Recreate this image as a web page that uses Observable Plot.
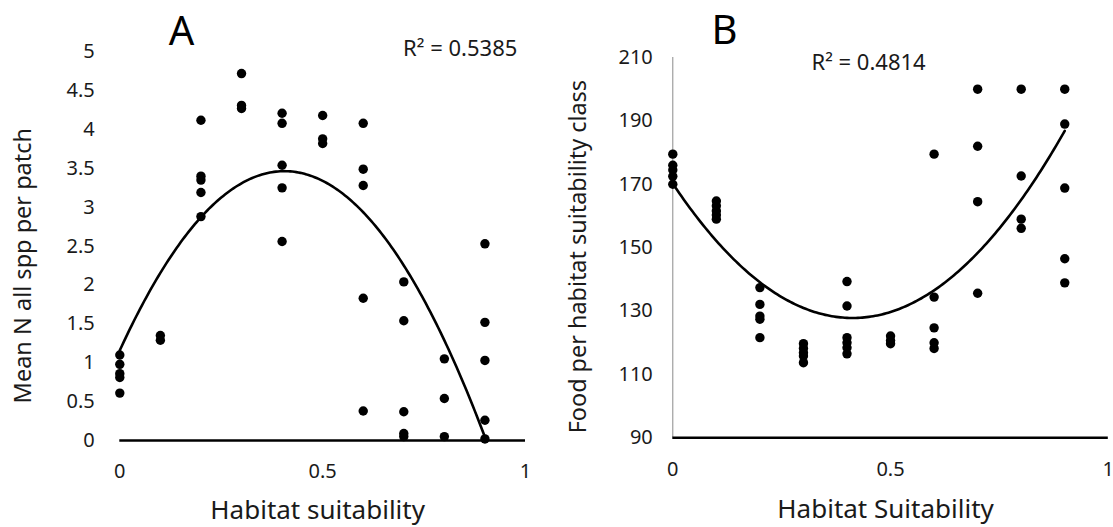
<!DOCTYPE html>
<html>
<head>
<meta charset="utf-8">
<script src="https://cdn.jsdelivr.net/npm/d3@7"></script>
<script src="https://cdn.jsdelivr.net/npm/@observablehq/plot@0.6"></script>
<style>
html, body { margin: 0; padding: 0; background: #fff; }
#wrap { position: relative; width: 1113px; height: 527px; overflow: hidden; font-family: "Noto Sans", sans-serif; }
#panelA { position: absolute; left: 0; top: 0; }
#panelB { position: absolute; left: 556px; top: 0; }
</style>
</head>
<body>
<div id="wrap"><div id="panelA"></div><div id="panelB"></div></div>
<script>
// ---- Panel A data: habitat suitability vs mean N all spp per patch ----
const suitabilityA = [
  0, 0, 0, 0, 0,
  0.1, 0.1,
  0.2, 0.2, 0.2, 0.2, 0.2,
  0.3, 0.3, 0.3,
  0.4, 0.4, 0.4, 0.4, 0.4,
  0.5, 0.5, 0.5,
  0.6, 0.6, 0.6, 0.6, 0.6,
  0.7, 0.7, 0.7, 0.7, 0.7,
  0.8, 0.8, 0.8,
  0.9, 0.9, 0.9, 0.9, 0.9
];
const meanN = [
  1.10, 0.98, 0.86, 0.81, 0.61,
  1.35, 1.29,
  4.12, 3.40, 3.35, 3.19, 2.88,
  4.72, 4.31, 4.27,
  4.21, 4.08, 3.54, 3.25, 2.56,
  4.18, 3.88, 3.82,
  4.08, 3.49, 3.28, 1.83, 0.38,
  2.04, 1.54, 0.37, 0.09, 0.05,
  1.05, 0.54, 0.05,
  2.53, 1.52, 1.03, 0.26, 0.02
];
const yTicksA = [0, 0.5, 1, 1.5, 2, 2.5, 3, 3.5, 4, 4.5, 5];
// polynomial (order 2) trendline coefficients: c0, c1, c2
const trendCoefA = [1.16, 11.36, -14.0];
const r2A = "R\u00B2 = 0.5385";

// ---- Panel B data: habitat suitability vs food per habitat suitability class ----
const suitabilityB = [
  0, 0, 0, 0, 0,
  0.1, 0.1, 0.1, 0.1, 0.1,
  0.2, 0.2, 0.2, 0.2, 0.2,
  0.3, 0.3, 0.3, 0.3, 0.3,
  0.4, 0.4, 0.4, 0.4, 0.4, 0.4,
  0.5, 0.5, 0.5,
  0.6, 0.6, 0.6, 0.6, 0.6,
  0.7, 0.7, 0.7, 0.7,
  0.8, 0.8, 0.8, 0.8,
  0.9, 0.9, 0.9, 0.9, 0.9
];
const food = [
  179.5, 176, 174.5, 172.5, 170,
  164.7, 163.2, 161.6, 160.3, 159,
  137.4, 132.1, 128.4, 127.4, 121.6,
  119.7, 118.2, 116.8, 115.8, 113.7,
  139.3, 131.6, 121.6, 120, 118.4, 116.5,
  122.1, 120.7, 119.7,
  179.5, 134.4, 124.7, 120, 118.2,
  200, 182, 164.5, 135.6,
  200, 172.6, 159, 156.1,
  200, 189, 168.8, 146.5, 138.9
];
const yTicksB = [90, 110, 130, 150, 170, 190, 210];
const trendCoefB = [170.2, -205.4, 248.8];
const r2B = "R\u00B2 = 0.4814";

const xTicks = [0, 0.5, 1];

function trend(xs, coef) {
  const [c0, c1, c2] = coef;
  const x0 = d3.min(xs), x1 = d3.max(xs);
  return d3.range(0, 181).map(i => {
    const x = x0 + (x1 - x0) * i / 180;
    return {x, y: c0 + c1 * x + c2 * x * x};
  });
}

const dataA = suitabilityA.map((x, i) => ({x, y: meanN[i]}));
const dataB = suitabilityB.map((x, i) => ({x, y: food[i]}));
const font = "Noto Sans";
const ink = "#1a1a1a";

const plotA = Plot.plot({
  width: 556, height: 527,
  marginLeft: 119.3, marginRight: 31, marginTop: 51.3, marginBottom: 87,
  style: {fontFamily: font, fontSize: "20px", color: ink, background: "white", overflow: "visible"},
  x: {domain: [0, 1]},
  y: {domain: [0, 5]},
  marks: [
    Plot.axisY({ticks: yTicksA, tickSize: 0, tickPadding: 25, label: null, tickFormat: d => String(d), fontSize: 20}),
    Plot.axisX({ticks: xTicks, tickSize: 0, tickPadding: 23, label: null, tickFormat: d => String(d), fontSize: 20}),
    Plot.ruleY([0], {x1: 0, x2: 1, stroke: "black", strokeWidth: 2.4}),
    Plot.line(trend(suitabilityA, trendCoefA), {x: "x", y: "y", stroke: "black", strokeWidth: 2.6}),
    Plot.dot(dataA, {x: "x", y: "y", r: 4.7, fill: "black", stroke: "none"}),
    Plot.text(["Habitat suitability"], {frameAnchor: "bottom", textAnchor: "middle", lineAnchor: "middle", dy: 70, dx: -5, fontSize: 26, fill: ink}),
    Plot.text(["Mean N all spp per patch"], {frameAnchor: "left", textAnchor: "middle", lineAnchor: "middle", rotate: -90, dx: -96, dy: 19.5, fontSize: 23.5, fill: ink}),
    Plot.text(["A"], {x: 0.152, y: 5.258, fontSize: 40, fill: "black"}),
    Plot.text([r2A], {x: 0.839, y: 5.04, fontSize: 22, fill: ink})
  ]
});
document.getElementById("panelA").appendChild(plotA);

const plotB = Plot.plot({
  width: 557, height: 527,
  marginLeft: 116.3, marginRight: 5.2, marginTop: 57, marginBottom: 89.7,
  style: {fontFamily: font, fontSize: "20px", color: ink, background: "white", overflow: "visible"},
  x: {domain: [0, 1]},
  y: {domain: [90, 210]},
  marks: [
    Plot.axisY({ticks: yTicksB, tickSize: 0, tickPadding: 20, label: null, tickFormat: d => String(d), fontSize: 20}),
    Plot.axisX({ticks: xTicks, tickSize: 0, tickPadding: 24, label: null, tickFormat: d => String(d), fontSize: 20}),
    Plot.ruleX([0], {y1: 90, y2: 210, stroke: "#8a8a8a", strokeWidth: 1}),
    Plot.ruleY([90], {x1: 0, x2: 1, stroke: "black", strokeWidth: 2.4}),
    Plot.line(trend(suitabilityB, trendCoefB), {x: "x", y: "y", stroke: "black", strokeWidth: 2.6}),
    Plot.dot(dataB, {x: "x", y: "y", r: 4.7, fill: "black", stroke: "none"}),
    Plot.text(["Habitat Suitability"], {frameAnchor: "bottom", textAnchor: "middle", lineAnchor: "middle", dy: 72, dx: -5, fontSize: 26, fill: ink}),
    Plot.text(["Food per habitat suitability class"], {frameAnchor: "left", textAnchor: "middle", lineAnchor: "middle", rotate: -90, dx: -94, dy: 9, fontSize: 23.4, fill: ink}),
    Plot.text(["B"], {x: 0.119, y: 218.2, fontSize: 40, fill: "black"}),
    Plot.text([r2B], {x: 0.4495, y: 208.35, fontSize: 22, fill: ink})
  ]
});
document.getElementById("panelB").appendChild(plotB);
</script>
</body>
</html>
